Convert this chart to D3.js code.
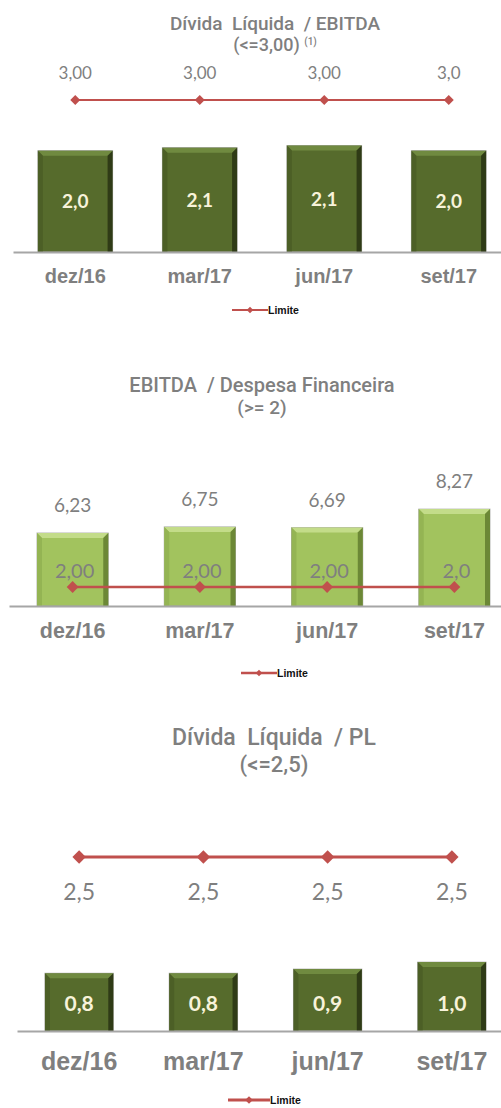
<!DOCTYPE html>
<html>
<head>
<meta charset="utf-8">
<script src="https://cdn.jsdelivr.net/npm/d3@7"></script>
<style>
  body { margin: 0; background: #fff; }
  svg { display: block; }
  .title { font-family: Roboto, "Liberation Sans", sans-serif; fill: #7f7f7f; text-anchor: middle; white-space: pre; font-weight: 500; }
  .cat text { font-family: "Liberation Sans", Arial, sans-serif; font-weight: bold; fill: #7f7f7f; }
  .val { font-family: Lato, "Open Sans", sans-serif; text-anchor: middle; }
  .leg { font-family: "Liberation Sans", Arial, sans-serif; font-size: 10.5px; font-weight: bold; fill: #111; }
</style>
</head>
<body>
<svg id="chart" width="501" height="1108"></svg>
<script>
const categories = ["dez/16", "mar/17", "jun/17", "set/17"];

// Divida Liquida / EBITDA
const dlEbitda = [2.0, 2.06, 2.1, 2.0];
const dlEbitdaLimit = [3.0, 3.0, 3.0, 3.0];
const dlEbitdaLimitLabels = ["3,00", "3,00", "3,00", "3,0"];

// EBITDA / Despesa Financeira
const ebitdaDesp = [6.23, 6.75, 6.69, 8.27];
const ebitdaDespLimit = [2.0, 2.0, 2.0, 2.0];
const ebitdaDespLimitLabels = ["2,00", "2,00", "2,00", "2,0"];

// Divida Liquida / PL
const dlPl = [0.83, 0.83, 0.89, 0.99];
const dlPlLimit = [2.5, 2.5, 2.5, 2.5];

const red = "#c0504d";
const darkPal = {base: "#566b2c", top: "#708a40", left: "#4c5f26", right: "#2f3b16", border: "#9a9a9a"};
const lightPal = {base: "#a2c35e", top: "#c3dc89", left: "#94b453", right: "#6c8836", border: "#9a9a9a"};

const comma = f => v => d3.format(f)(v).replace(".", ",");
const svg = d3.select("#chart");

function drawBars(g, data, x, y, pal) {
  g.selectAll("g.bar").data(data).join("g").attr("class", "bar").each(function(v, i) {
    const s = d3.select(this);
    const x0 = x(categories[i]), w = x.bandwidth(), y0 = y(v), y1 = y(0), b = 5;
    s.append("rect").attr("x", x0).attr("y", y0).attr("width", w).attr("height", y1 - y0)
      .attr("fill", pal.base).attr("stroke", pal.border).attr("stroke-opacity", 0.7);
    s.append("path").attr("d", `M${x0},${y0}L${x0+w},${y0}L${x0+w-b},${y0+b}L${x0+b},${y0+b}Z`).attr("fill", pal.top);
    s.append("path").attr("d", `M${x0},${y0}L${x0+b},${y0+b}L${x0+b},${y1}L${x0},${y1}Z`).attr("fill", pal.left);
    s.append("path").attr("d", `M${x0+w},${y0}L${x0+w-b},${y0+b}L${x0+w-b},${y1}L${x0+w},${y1}Z`).attr("fill", pal.right);
  });
}

function drawLimit(g, data, x, y, width, size) {
  const line = d3.line().x((d, i) => x(categories[i]) + x.bandwidth() / 2).y(d => y(d));
  g.append("path").datum(data).attr("d", line).attr("fill", "none").attr("stroke", red).attr("stroke-width", width);
  g.selectAll("path.mk").data(data).join("path").attr("class", "mk")
    .attr("d", d3.symbol(d3.symbolSquare, size))
    .attr("transform", (d, i) => `translate(${x(categories[i]) + x.bandwidth() / 2},${y(d)}) rotate(45)`)
    .attr("fill", red);
}

function drawAxis(g, x, y0, fontSize, dyBase) {
  const ax = g.append("g").attr("class", "cat").attr("transform", `translate(0,${y0})`)
    .call(d3.axisBottom(x).tickSize(0).tickSizeOuter(0));
  ax.select(".domain").attr("stroke", "#a6a6a6").attr("stroke-width", 2);
  ax.selectAll("text").attr("dy", null).attr("y", dyBase).style("font-size", fontSize + "px");
}

function drawLegend(g, cx, cy, len, width, size) {
  const lg = g.append("g").attr("transform", `translate(${cx},${cy})`);
  lg.append("line").attr("x1", 0).attr("x2", len).attr("stroke", red).attr("stroke-width", width);
  lg.append("path").attr("d", d3.symbol(d3.symbolSquare, size)).attr("transform", `translate(${len / 2},0) rotate(45)`).attr("fill", red);
  lg.append("text").attr("class", "leg").attr("x", len).attr("y", 4).text("Limite");
}

// ---- panel 1
{
  const g = svg.append("g");
  const x = d3.scaleBand().domain(categories).range([13, 511]).paddingInner(0.4).paddingOuter(0.2);
  const y = d3.scaleLinear().domain([0, 3]).range([252, 100]);
  g.append("text").attr("class", "title").attr("x", 275).attr("y", 30).style("font-size", "19px").text("Dívida  Líquida  / EBITDA");
  const t2 = g.append("text").attr("class", "title").attr("x", 275).attr("y", 51).style("font-size", "18px");
  t2.append("tspan").text("(<=3,00) ");
  t2.append("tspan").attr("dy", -6).style("font-size", "10px").text("(1)");
  drawBars(g, dlEbitda, x, y, darkPal);
  drawAxis(g, x, 252, 20, 31);
  drawLimit(g, dlEbitdaLimit, x, y, 2, 50);
  g.selectAll("text.lim").data(dlEbitdaLimitLabels).join("text").attr("class", "val")
    .attr("x", (d, i) => x(categories[i]) + x.bandwidth() / 2).attr("y", (d, i) => y(dlEbitdaLimit[i]) - 21)
    .attr("fill", "#7f7f7f").style("font-size", "17px").text(d => d);
  g.selectAll("text.bv").data(dlEbitda).join("text").attr("class", "val")
    .attr("x", (d, i) => x(categories[i]) + x.bandwidth() / 2).attr("y", d => (y(d) + y(0)) / 2 + 7)
    .attr("fill", "#f8f3da").style("font-size", "19px").style("font-weight", "bold").text(comma(".1f"));
  drawLegend(g, 232, 310, 36, 2, 22);
}

// ---- panel 2
{
  const g = svg.append("g");
  const x = d3.scaleBand().domain(categories).range([9, 518]).paddingInner(0.44).paddingOuter(0.22);
  const y = d3.scaleLinear().domain([0, 10]).range([606, 488.8]);
  const y2 = d3.scaleLinear().domain([0, 2]).range([606, 587]);
  g.append("text").attr("class", "title").attr("x", 262).attr("y", 392).style("font-size", "20px").text("EBITDA  / Despesa Financeira");
  g.append("text").attr("class", "title").attr("x", 262).attr("y", 414).style("font-size", "19px").text("(>= 2)");
  drawBars(g, ebitdaDesp, x, y, lightPal);
  drawAxis(g, x, 606, 21.5, 32);
  g.selectAll("text.bv").data(ebitdaDesp).join("text").attr("class", "val")
    .attr("x", (d, i) => x(categories[i]) + x.bandwidth() / 2).attr("y", d => y(d) - 21)
    .attr("fill", "#7f7f7f").style("font-size", "19px").text(comma(".2f"));
  g.selectAll("text.lim").data(ebitdaDespLimitLabels).join("text").attr("class", "val")
    .attr("x", (d, i) => x(categories[i]) + x.bandwidth() / 2 + 2).attr("y", (d, i) => y2(ebitdaDespLimit[i]) - 9)
    .attr("fill", "#7f7f7f").style("font-size", "20px").text(d => d);
  drawLimit(g, ebitdaDespLimit, x, y2, 2.5, 70);
  drawLegend(g, 241, 673, 36, 2.5, 22);
}

// ---- panel 3
{
  const g = svg.append("g");
  const x = d3.scaleBand().domain(categories).range([17, 514]).paddingInner(0.45).paddingOuter(0.225);
  const y = d3.scaleLinear().domain([0, 2.5]).range([1031, 857]);
  g.append("text").attr("class", "title").attr("x", 274).attr("y", 745).style("font-size", "23px").text("Dívida  Líquida  / PL");
  g.append("text").attr("class", "title").attr("x", 274).attr("y", 772).style("font-size", "22px").text("(<=2,5)");
  drawBars(g, dlPl, x, y, darkPal);
  drawAxis(g, x, 1031, 25, 39);
  drawLimit(g, dlPlLimit, x, y, 3, 90);
  g.selectAll("text.lim").data(dlPlLimit).join("text").attr("class", "val")
    .attr("x", (d, i) => x(categories[i]) + x.bandwidth() / 2).attr("y", d => y(d) + 43)
    .attr("fill", "#7f7f7f").style("font-size", "23px").text(comma(".1f"));
  g.selectAll("text.bv").data(dlPl).join("text").attr("class", "val")
    .attr("x", (d, i) => x(categories[i]) + x.bandwidth() / 2).attr("y", 1011)
    .attr("fill", "#f8f3da").style("font-size", "21px").style("font-weight", "bold").text(comma(".1f"));
  drawLegend(g, 228, 1100, 42, 3, 30);
}
</script>
</body>
</html>
